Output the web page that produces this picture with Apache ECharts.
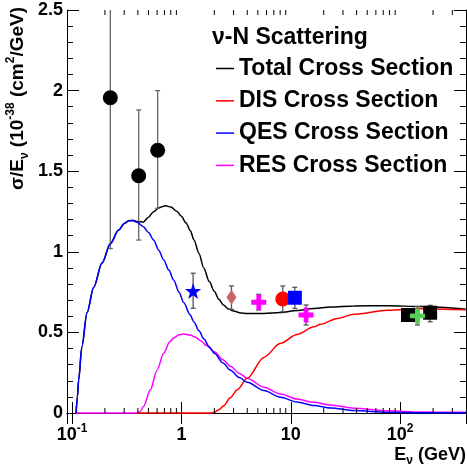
<!DOCTYPE html>
<html>
<head>
<meta charset="utf-8">
<script src="https://cdn.jsdelivr.net/npm/echarts@6/dist/echarts.min.js"></script>
<style>
html,body{margin:0;padding:0;background:#fff}
#main{width:467px;height:466px}
</style>
</head>
<body>
<div id="main"></div>
<script>
// curves: [E (GeV), sigma/E (1e-38 cm^2/GeV)]
const totalCurve = [
  [0.109,0],[0.112,0.1],[0.115,0.205],[0.123,0.41],[0.137,0.62],[0.158,0.78],[0.188,0.93],
  [0.224,1.05],[0.267,1.135],[0.30,1.175],[0.33,1.193],[0.36,1.195],[0.393,1.188],[0.45,1.185],
  [0.50,1.215],[0.558,1.249],[0.63,1.275],[0.714,1.286],[0.80,1.278],[0.913,1.25],[1.0,1.22],
  [1.1,1.18],[1.21,1.13],[1.3,1.075],[1.45,0.99],[1.6,0.9],[1.8,0.815],[2.0,0.755],[2.2,0.705],
  [2.44,0.668],[2.7,0.645],[3.0,0.632],[3.5,0.621],[4.0,0.617],[5.67,0.618],[8.06,0.623],
  [11.4,0.636],[16.3,0.649],[23.2,0.657],[37.9,0.664],[76.6,0.666],[155,0.66],[400,0.644]
]
const disCurve = [
  [0.393,0],[1.9,0],[1.98,0.003],[2.2,0.02],[2.44,0.045],[2.8,0.095],[3.23,0.143],[4.0,0.215],
  [5.67,0.345],[8.06,0.432],[11.4,0.487],[16.3,0.535],[18.7,0.55],[26.6,0.587],[37.9,0.612],
  [76.6,0.638],[155,0.647],[400,0.64]
]
const qesCurve = [
  [0.109,0],[0.112,0.1],[0.115,0.205],[0.123,0.41],[0.137,0.62],[0.158,0.78],[0.188,0.93],
  [0.224,1.05],[0.267,1.135],[0.30,1.175],[0.33,1.193],[0.36,1.192],[0.393,1.183],[0.45,1.156],
  [0.50,1.12],[0.558,1.073],[0.62,1.01],[0.689,0.949],[0.77,0.885],[0.85,0.825],[0.95,0.75],
  [1.05,0.685],[1.2,0.61],[1.3,0.565],[1.45,0.51],[1.6,0.46],[1.8,0.41],[2.0,0.37],[2.4,0.31],
  [2.81,0.265],[3.4,0.22],[4.0,0.19],[5.67,0.14],[8.06,0.098],[11.4,0.068],[16.3,0.046],
  [23.2,0.031],[37.9,0.015],[77,0.005],[155,0.002],[400,0]
]
const resCurve = [
  [0.109,0],[0.393,0],[0.42,0.01],[0.45,0.04],[0.52,0.143],[0.60,0.267],[0.689,0.37],[0.78,0.44],
  [0.85,0.465],[0.95,0.485],[1.05,0.49],[1.2,0.484],[1.35,0.47],[1.5,0.448],[1.7,0.418],[2.0,0.38],
  [2.4,0.33],[2.81,0.29],[3.4,0.245],[4.0,0.215],[5.67,0.16],[8.06,0.118],[11.4,0.087],[16.3,0.066],
  [23.2,0.05],[37.9,0.03],[77,0.014],[155,0.006],[400,0.004]
]

// measurements: [E, value, error low, error high]
const circlePts = [[0.224,1.956,1.02,2.9],[0.407,1.472,1.073,1.88],[0.607,1.63,1.27,2.0]]
const starPts = [[1.28,0.757,0.65,0.867]]
const diamondPts = [[2.87,0.718,0.643,0.788]]
const crossPts = [[5.1,0.687,0.639,0.736],[13.8,0.608,0.546,0.67]]
const redCirclePts = [[8.45,0.707,0.628,0.788]]
const blueSquarePts = [[10.9,0.715,0.649,0.78]]
const blackSquarePts = [[118,0.608,0.575,0.64],[188,0.622,0.566,0.668]]
const greenCrossPts = [[144,0.602,0.546,0.66]]

// axis ticks
const xTickValues = [0.1, 1, 10, 100]
const xTickLabels = ['10{sup|-1}', '1', '10', '10{sup|2}']
const xMinorTicks = [0.2,0.3,0.4,0.5,0.6,0.7,0.8,0.9,2,3,4,5,6,7,8,9,20,30,40,50,60,70,80,90,200,300]

const FONT = 'Liberation Sans, Arial, Helvetica, sans-serif'
const starPath = 'path://M50,0 L61.76,33.82 L97.55,34.55 L69.02,56.18 L79.39,90.45 L50,70 L20.61,90.45 L30.98,56.18 L2.45,34.55 L38.24,33.82 Z'
const crossPath = 'path://M34,0 H66 V34 H100 V66 H66 V100 H34 V66 H0 V34 H34 Z'

let chart = echarts.init(document.getElementById('main'), null, {renderer: 'canvas'})

//误差棒
function errorBar(color) {
  return function (params, api) {
    let x = api.value(0)
    let lo = api.coord([x, api.value(2)])
    let hi = api.coord([x, api.value(3)])
    let st = {stroke: color, lineWidth: 1.3}
    return {
      type: 'group',
      children: [
        {type: 'line', shape: {x1: lo[0], y1: lo[1], x2: hi[0], y2: hi[1]}, style: st},
        {type: 'line', shape: {x1: lo[0] - 2.5, y1: lo[1], x2: lo[0] + 2.5, y2: lo[1]}, style: st},
        {type: 'line', shape: {x1: hi[0] - 2.5, y1: hi[1], x2: hi[0] + 2.5, y2: hi[1]}, style: st}
      ]
    }
  }
}

function pointSeries(data, symbol, size, color, barColor) {
  return [
    {type: 'custom', data: data, renderItem: errorBar(barColor || '#555'), clip: true, z: 3, silent: true},
    {type: 'scatter', data: data.map(d => [d[0], d[1]]), symbol: symbol, symbolSize: size,
      itemStyle: {color: color, opacity: 1}, z: 5, silent: true}
  ]
}

function curve(name, data, color, z) {
  return {name: name, type: 'line', data: data, symbol: 'none', smooth: 0.3, smoothMonotone: 'x',
    clip: false, lineStyle: {color: color, width: 1.5}, itemStyle: {color: color}, z: z, silent: true}
}

//小刻度
function minorTicks(params, api) {
  let v = api.value(0)
  let b = api.coord([v, 0])
  let t = api.coord([v, 2.5])
  let st = {stroke: '#000', lineWidth: 1}
  return {
    type: 'group',
    children: [
      {type: 'line', shape: {x1: b[0], y1: b[1], x2: b[0], y2: b[1] - 5}, style: st},
      {type: 'line', shape: {x1: t[0], y1: t[1], x2: t[0], y2: t[1] + 5}, style: st}
    ]
  }
}

const supRich = {
  sup: {fontSize: 12, lineHeight: 12, verticalAlign: 'top', fontWeight: 'bold', fontFamily: FONT, color: '#000'},
  sub: {fontSize: 12, lineHeight: 12, verticalAlign: 'bottom', fontWeight: 'bold', fontFamily: FONT, color: '#000'}
}
const graphicRich = {
  sup: {fontSize: 12, lineHeight: 12, verticalAlign: 'top', fontWeight: 'bold', fontFamily: FONT, fill: '#000'},
  sub: {fontSize: 12, lineHeight: 12, verticalAlign: 'bottom', fontWeight: 'bold', fontFamily: FONT, fill: '#000'}
}

let option = {
  animation: false,
  backgroundColor: '#fff',
  grid: {left: 67, right: 1, top: 10, bottom: 53, outerBoundsMode: 'none'},
  title: {
    text: 'ν-N Scattering', left: 207, top: 21,
    textStyle: {fontSize: 23, fontWeight: 'bold', color: '#000', fontFamily: FONT}
  },
  legend: {
    data: ['Total Cross Section', 'DIS Cross Section', 'QES Cross Section', 'RES Cross Section'],
    orient: 'vertical', left: 211, top: 52, icon: 'rect', itemWidth: 18, itemHeight: 1.5, itemGap: 9.3,
    textStyle: {fontSize: 23, fontWeight: 'bold', color: '#000', fontFamily: FONT, lineHeight: 23},
    selectedMode: false
  },
  xAxis: [{
    type: 'log', min: 0.09, max: 400, position: 'bottom',
    axisLine: {lineStyle: {color: '#000', width: 1}},
    axisTick: {inside: true, length: 11, lineStyle: {color: '#000'}},
    splitLine: {show: false},
    axisLabel: {
      margin: 10, fontSize: 18, fontWeight: 'bold', color: '#000', fontFamily: FONT, lineHeight: 24,
      formatter: function (v) {
        for (let i = 0; i < xTickValues.length; i++) {
          if (Math.abs(Math.log10(v) - Math.log10(xTickValues[i])) < 1e-6) return xTickLabels[i]
        }
        return ''
      },
      rich: supRich
    }
  }, {
    type: 'log', min: 0.09, max: 400, position: 'top',
    axisLine: {lineStyle: {color: '#000', width: 1}},
    axisTick: {inside: true, length: 11, lineStyle: {color: '#000'}},
    axisLabel: {show: false}, splitLine: {show: false}
  }],
  yAxis: [{
    type: 'value', min: 0, max: 2.5, interval: 0.5, position: 'left',
    axisLine: {show: true, lineStyle: {color: '#000', width: 1}},
    axisTick: {inside: true, length: 12, lineStyle: {color: '#000'}},
    minorTick: {show: true, splitNumber: 5, length: 6, lineStyle: {color: '#000'}},
    splitLine: {show: false},
    axisLabel: {margin: 4, fontSize: 18, fontWeight: 'bold', color: '#000', fontFamily: FONT}
  }, {
    type: 'value', min: 0, max: 2.5, interval: 0.5, position: 'right',
    axisLine: {show: true, lineStyle: {color: '#000', width: 1}},
    axisTick: {inside: true, length: 12, lineStyle: {color: '#000'}},
    minorTick: {show: true, splitNumber: 5, length: 6, lineStyle: {color: '#000'}},
    splitLine: {show: false}, axisLabel: {show: false}
  }],
  graphic: [{
    type: 'text', x: 18, y: 7, rotation: Math.PI / 2,
    style: {
      text: 'σ/E{sub|ν} (10{sup|-38} (cm{sup|2}/GeV)',
      align: 'right', verticalAlign: 'middle',
      fontSize: 19, fontWeight: 'bold', fontFamily: FONT, fill: '#000', lineHeight: 26,
      rich: graphicRich
    }
  }, {
    type: 'text', x: 466, y: 455,
    style: {
      text: 'E{sub|ν} (GeV)', align: 'right', verticalAlign: 'middle',
      fontSize: 18, fontWeight: 'bold', fontFamily: FONT, fill: '#000', lineHeight: 24,
      rich: graphicRich
    }
  }],
  series: [
    {type: 'custom', data: xMinorTicks.map(v => [v]), renderItem: minorTicks, clip: false, silent: true, z: 6},
    curve('Total Cross Section', totalCurve, '#000', 2),
    curve('DIS Cross Section', disCurve, '#ff0000', 2),
    curve('QES Cross Section', qesCurve, '#0000ff', 3),
    curve('RES Cross Section', resCurve, '#ff00ff', 1)
  ].concat(
    pointSeries(circlePts, 'circle', 15, '#000', '#666'),
    pointSeries(starPts, starPath, 16, '#0000ff'),
    pointSeries(diamondPts, 'diamond', [10, 15], '#cc6666'),
    pointSeries(crossPts, crossPath, 15, '#ff00ff'),
    pointSeries(redCirclePts, 'circle', 15, '#ff0000'),
    pointSeries(blueSquarePts, 'rect', 14, '#0000ff'),
    pointSeries(blackSquarePts, 'rect', 14, '#000'),
    pointSeries(greenCrossPts, crossPath, 15, '#55cc55')
  )
}

chart.setOption(option)
</script>
</body>
</html>
